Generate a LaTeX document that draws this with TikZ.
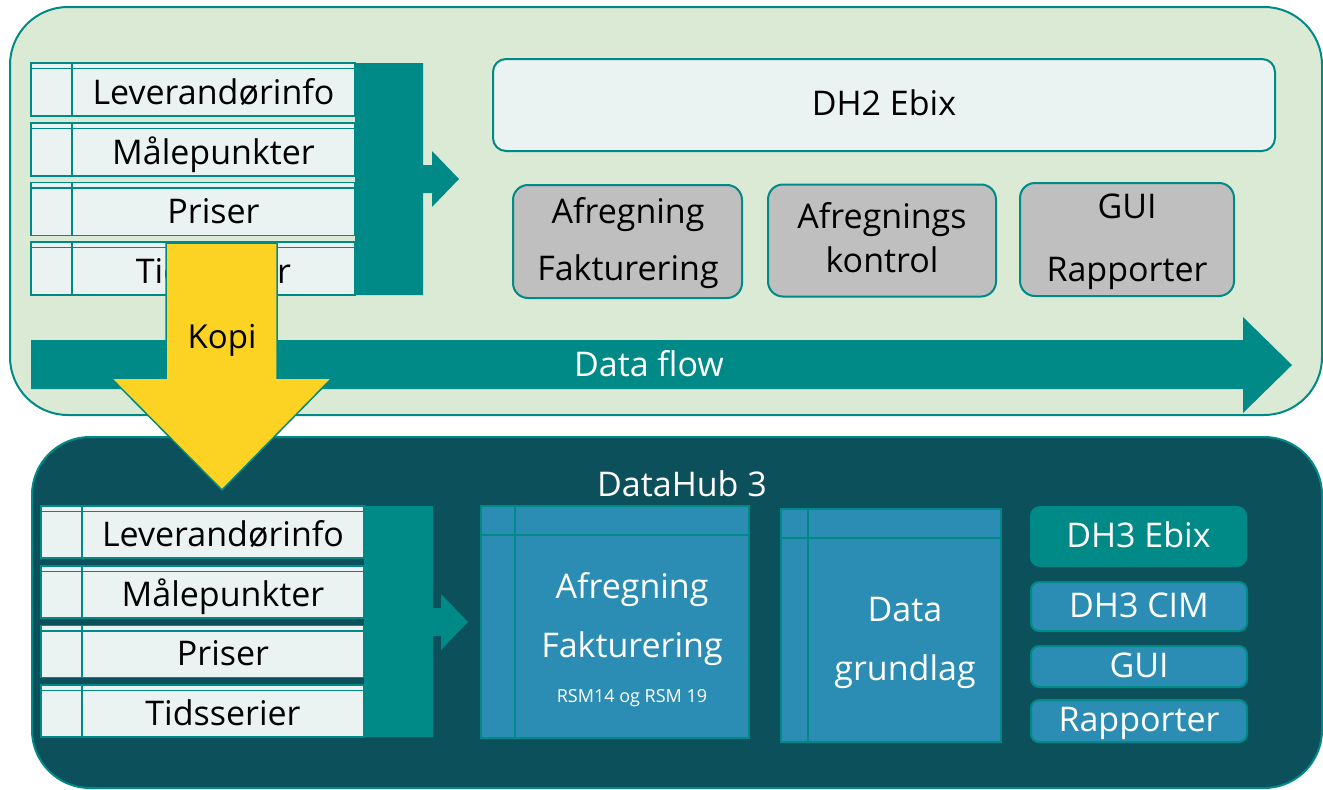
\documentclass[tikz,border=0pt]{standalone}
\usepackage{fontspec}
\setmainfont{Open Sans}
\definecolor{tealc}{HTML}{008A87}
\definecolor{bggreen}{HTML}{DAEAD4}
\definecolor{lightbox}{HTML}{EAF3F1}
\definecolor{darkbg}{HTML}{0C505C}
\definecolor{bluebox}{HTML}{2B8DB3}
\definecolor{grayb}{HTML}{BFBFBF}
\definecolor{yellowc}{HTML}{FDD323}
\begin{document}
\begin{tikzpicture}[x=1pt,y=-1pt,
  container/.style={draw=tealc,line width=2pt,rounded corners=58pt},
  rowbox/.style={fill=lightbox,draw=tealc,line width=1.8pt},
  rowline/.style={draw=tealc,line width=1.8pt},
  txt/.style={inner sep=0pt,anchor=base,font=\fontsize{34}{40}\selectfont},
  smalltxt/.style={inner sep=0pt,anchor=base,font=\fontsize{18}{22}\selectfont},
  graybox/.style={fill=grayb,draw=tealc,line width=2pt,rounded corners=15pt},
  ebixbox/.style={fill=lightbox,draw=tealc,line width=2pt,rounded corners=13pt},
  bluetab/.style={fill=bluebox,draw=tealc,line width=2pt},
  bluebtn/.style={fill=bluebox,draw=tealc,line width=2pt,rounded corners=8pt},
  tealbtn/.style={fill=tealc,rounded corners=10pt},
  tealarrow/.style={fill=tealc},
  kopiarrow/.style={fill=yellowc,draw=tealc,line width=1.5pt,line join=miter}
]
\useasboundingbox (0,0) rectangle (1323,790);
\clip (0,0) rectangle (1323,790);

% ---------- top container ----------
\draw[container,fill=bggreen] (10,7) rectangle (1322,415);

% top table rows
\foreach \t/\lab/\nm in {63/Leverandørinfo/ta,123/Målepunkter/tb,182.5/Priser/tc,242/Tidsserier/td}{
  \draw[rowbox] (31,\t) rectangle (355,\t+53);
  \draw[rowline] (31,\t+5.5) -- (355,\t+5.5);
  \draw[rowline] (72,\t) -- (72,\t+53);
  \node[txt] (\nm) at (213.5,\t+41) {\lab};
}
% teal block with arrow
\fill[tealarrow] (355,63) -- (423,63) -- (423,165) -- (432,165) -- (432,151) -- (459,179)
  -- (432,207) -- (432,193) -- (423,193) -- (423,295) -- (355,295) -- cycle;

% DH2 Ebix
\node[ebixbox,minimum width=782pt,minimum height=92pt] (dh2) at (884,105) {};
\node[txt] (dh2t) at (884,115) {DH2 Ebix};

% gray boxes
\node[graybox,minimum width=229pt,minimum height=113pt] (g1) at (627.5,241.5) {};
\node[txt] (g1a) at (628,223.5) {Afregning};
\node[txt] (g1b) at (628,280) {Fakturering};
\node[graybox,minimum width=228pt,minimum height=112pt] (g2) at (882,240.5) {};
\node[txt] (g2a) at (882,228.5) {Afregnings};
\node[txt] (g2b) at (882,272) {kontrol};
\node[graybox,minimum width=214pt,minimum height=113pt] (g3) at (1127,239.5) {};
\node[txt] (g3a) at (1127,218.5) {GUI};
\node[txt] (g3b) at (1127,281) {Rapporter};

% data flow arrow
\fill[tealarrow] (31,340) -- (1243,340) -- (1243,317) -- (1292,365) -- (1243,413) -- (1243,389) -- (31,389) -- cycle;
\node[txt,text=white] (flow) at (649,376.5) {Data flow};

% ---------- bottom container ----------
\draw[container,fill=darkbg] (32,437) rectangle (1322,788);
\node[txt,text=white] (dh3) at (682,496.5) {DataHub 3};

% bottom table rows
\foreach \t/\lab/\nm in {506/Leverandørinfo/ba,566/Målepunkter/bb,625.5/Priser/bc,685/Tidsserier/bd}{
  \draw[rowbox] (41,\t) rectangle (364,\t+52);
  \draw[rowline] (41,\t+5.5) -- (364,\t+5.5);
  \draw[rowline] (82,\t) -- (82,\t+52);
  \node[txt] (\nm) at (223,\t+40) {\lab};
}
\fill[tealarrow] (364,506) -- (433,506) -- (433,608) -- (441,608) -- (441,594) -- (468,622)
  -- (441,650) -- (441,636) -- (433,636) -- (433,737) -- (364,737) -- cycle;

% Afregning / Fakturering table
\draw[bluetab] (481,506) rectangle (749,738);
\draw[rowline] (481,535) -- (749,535);
\draw[rowline] (515,506) -- (515,738);
\node[txt,text=white] (afa) at (632,598) {Afregning};
\node[txt,text=white] (afb) at (632,657) {Fakturering};
\node[smalltxt,text=white] (afc) at (632,702) {RSM14 og RSM 19};

% Data grundlag table
\draw[bluetab] (781,509) rectangle (1001,742);
\draw[rowline] (781,538) -- (1001,538);
\draw[rowline] (808,509) -- (808,742);
\node[txt,text=white] (dga) at (905,621) {Data};
\node[txt,text=white] (dgb) at (905,680) {grundlag};

% right buttons
\node[tealbtn,minimum width=217pt,minimum height=61pt] (e3) at (1138.5,536.5) {};
\node[txt,text=white] (e3t) at (1138.5,547) {DH3 Ebix};
\node[bluebtn,minimum width=216pt,minimum height=49pt] (c3) at (1139,606.5) {};
\node[txt,text=white] (c3t) at (1139,617) {DH3 CIM};
\node[bluebtn,minimum width=216pt,minimum height=41pt] (gu) at (1139,666.5) {};
\node[txt,text=white] (gut) at (1139,677) {GUI};
\node[bluebtn,minimum width=216pt,minimum height=42pt] (ra) at (1139,721) {};
\node[txt,text=white] (rat) at (1139,731.5) {Rapporter};

% ---------- Kopi arrow ----------
\draw[kopiarrow] (166,243) -- (277,243) -- (277,378) -- (332,378) -- (222,490) -- (111,378) -- (166,378) -- cycle;
\node[txt,font=\fontsize{33}{40}\selectfont] (kopi) at (222,348) {Kopi};
\end{tikzpicture}
\end{document}
